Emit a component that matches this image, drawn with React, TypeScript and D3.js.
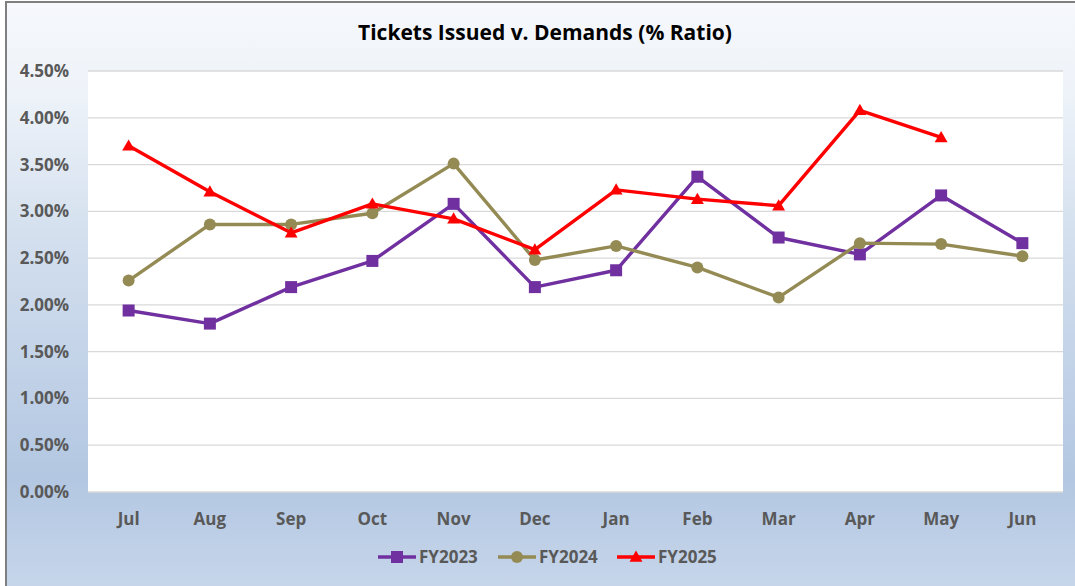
import { useEffect, useRef } from 'react';
import * as d3 from 'd3';

// chart values
const months = ['Jul', 'Aug', 'Sep', 'Oct', 'Nov', 'Dec', 'Jan', 'Feb', 'Mar', 'Apr', 'May', 'Jun'];
const fy2023 = [1.94, 1.80, 2.19, 2.47, 3.08, 2.19, 2.37, 3.37, 2.72, 2.54, 3.17, 2.66];
const fy2024 = [2.26, 2.86, 2.86, 2.98, 3.51, 2.48, 2.63, 2.40, 2.08, 2.66, 2.65, 2.52];
const fy2025 = [3.70, 3.21, 2.77, 3.08, 2.92, 2.59, 3.23, 3.13, 3.06, 4.08, 3.79];
const yTicks = [0, 0.5, 1, 1.5, 2, 2.5, 3, 3.5, 4, 4.5];

const SERIES = [
    { name: 'FY2023', values: fy2023, color: '#7030A0', marker: 'square' },
    { name: 'FY2024', values: fy2024, color: '#948A54', marker: 'circle' },
    { name: 'FY2025', values: fy2025, color: '#FF0000', marker: 'triangle' },
];

const W = 1075;
const H = 586;
const FONT = "'Open Sans', Lato, sans-serif";

function drawMarker(g: any, type: string, x: number, y: number, color: string) {
    if (type === 'square') {
        g.append('rect')
            .attr('x', x - 6).attr('y', y - 6)
            .attr('width', 12).attr('height', 12)
            .attr('fill', color);
    } else if (type === 'circle') {
        g.append('circle')
            .attr('cx', x).attr('cy', y).attr('r', 6)
            .attr('fill', color);
    } else {
        const sym = d3.symbol().type(d3.symbolTriangle).size(72);
        g.append('path')
            .attr('transform', `translate(${x},${y + 1})`)
            .attr('d', sym())
            .attr('fill', color);
    }
}

export default function App() {
    const svgRef = useRef<SVGSVGElement | null>(null);

    useEffect(() => {
        if (!svgRef.current) return;
        const svg = d3.select(svgRef.current);
        svg.selectAll('*').remove();

        const plot = { left: 88, right: 1063, top: 71, bottom: 492 };

        // background gradient
        const defs = svg.append('defs');
        const grad = defs.append('linearGradient')
            .attr('id', 'bg-grad')
            .attr('x1', '0%').attr('y1', '0%')
            .attr('x2', '0%').attr('y2', '100%');
        grad.append('stop').attr('offset', '0%').attr('stop-color', '#f6f8fc');
        grad.append('stop').attr('offset', '15%').attr('stop-color', '#eef3f9');
        grad.append('stop').attr('offset', '40%').attr('stop-color', '#d3dfee');
        grad.append('stop').attr('offset', '80%').attr('stop-color', '#b3c7e2');
        grad.append('stop').attr('offset', '100%').attr('stop-color', '#c8d7eb');

        svg.append('rect')
            .attr('x', 6).attr('y', 2)
            .attr('width', W + 10).attr('height', H + 10)
            .attr('fill', 'url(#bg-grad)')
            .attr('stroke', '#7f7f7f')
            .attr('stroke-width', 2);

        svg.append('rect')
            .attr('x', plot.left).attr('y', plot.top)
            .attr('width', plot.right - plot.left)
            .attr('height', plot.bottom - plot.top)
            .attr('fill', '#ffffff');

        const x = d3.scaleBand().domain(months).range([plot.left, plot.right]);
        const y = d3.scaleLinear().domain([0, 4.5]).range([plot.bottom, plot.top]);
        const cx = (m: string) => (x(m) as number) + x.bandwidth() / 2;

        // gridlines
        svg.append('g')
            .selectAll('line')
            .data(yTicks)
            .join('line')
            .attr('x1', plot.left).attr('x2', plot.right)
            .attr('y1', d => y(d)).attr('y2', d => y(d))
            .attr('stroke', '#d9d9d9')
            .attr('stroke-width', 1.3);

        // y tick labels
        svg.append('g')
            .selectAll('text')
            .data(yTicks)
            .join('text')
            .attr('x', 69).attr('y', d => y(d))
            .attr('dy', '0.35em')
            .attr('text-anchor', 'end')
            .style('font-family', FONT).style('font-weight', 'bold')
            .style('font-size', '17px').style('fill', '#595959')
            .text(d => d.toFixed(2) + '%');

        // x tick labels
        svg.append('g')
            .selectAll('text')
            .data(months)
            .join('text')
            .attr('x', d => cx(d)).attr('y', 519)
            .attr('dy', '0.35em')
            .attr('text-anchor', 'middle')
            .style('font-family', FONT).style('font-weight', 'bold')
            .style('font-size', '17px').style('fill', '#595959')
            .text(d => d);

        // title
        svg.append('text')
            .attr('x', 545).attr('y', 33)
            .attr('dy', '0.35em')
            .attr('text-anchor', 'middle')
            .style('font-family', FONT).style('font-weight', 'bold')
            .style('font-size', '21px').style('fill', '#000000')
            .text('Tickets Issued v. Demands (% Ratio)');

        // series
        const line = d3.line<number>()
            .x((_, i) => cx(months[i]))
            .y(d => y(d));

        SERIES.forEach(s => {
            const g = svg.append('g');
            g.append('path')
                .attr('d', line(s.values))
                .attr('fill', 'none')
                .attr('stroke', s.color)
                .attr('stroke-width', 3.4)
                .attr('stroke-linejoin', 'round');
            s.values.forEach((v, i) => drawMarker(g, s.marker, cx(months[i]), y(v), s.color));
        });

        // legend
        const legendX = [378, 498, 617];
        SERIES.forEach((s, i) => {
            const g = svg.append('g');
            const lx = legendX[i];
            g.append('line')
                .attr('x1', lx).attr('x2', lx + 38)
                .attr('y1', 557).attr('y2', 557)
                .attr('stroke', s.color).attr('stroke-width', 3.4);
            drawMarker(g, s.marker, lx + 19, 557, s.color);
            g.append('text')
                .attr('x', lx + 41).attr('y', 557)
                .attr('dy', '0.35em')
                .style('font-family', FONT).style('font-weight', 'bold')
                .style('font-size', '17px').style('fill', '#595959')
                .text(s.name);
        });
    }, []);

    return (
        <svg ref={svgRef} width={W} height={H}
            style={{ position: 'absolute', left: 0, top: 0, display: 'block' }} />
    );
}
